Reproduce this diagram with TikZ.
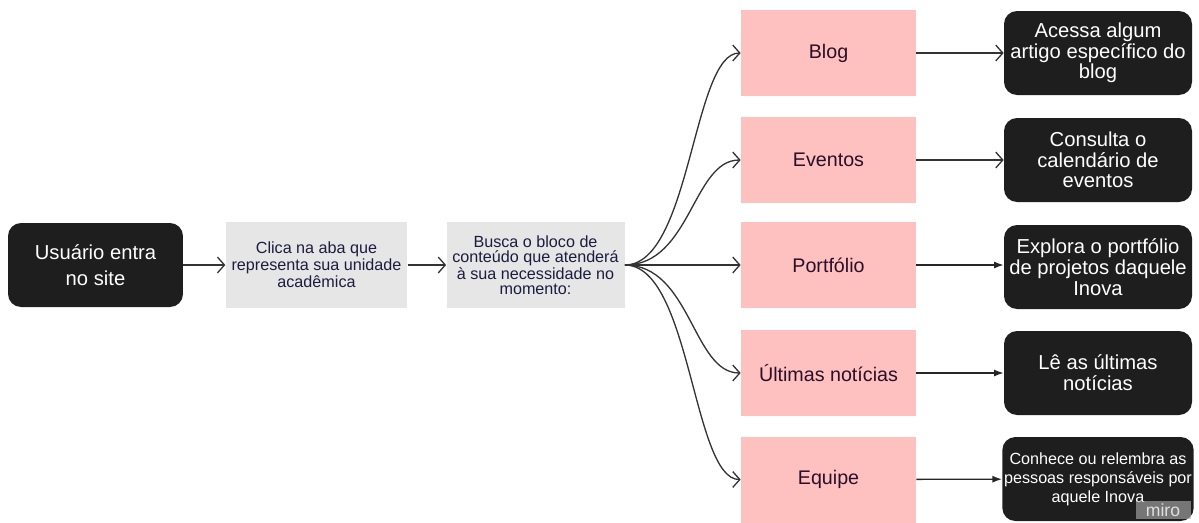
\documentclass[tikz,border=0pt]{standalone}
\usepackage{fontspec}
\setmainfont{Liberation Sans}
\usetikzlibrary{arrows.meta}
\definecolor{boxpink}{RGB}{255,192,192}
\definecolor{boxgrey}{RGB}{230,230,230}
\definecolor{boxblack}{RGB}{30,30,30}
\definecolor{inknavy}{RGB}{28,28,64}
\definecolor{inkplum}{RGB}{40,16,40}
\tikzset{
    % black rounded boxes
    userbox/.style={fill=boxblack, rounded corners=0.26cm, text=white, align=center,
        minimum width=3.5cm, minimum height=1.68cm, font=\fontsize{11.5}{14.5}\selectfont},
    actbox/.style={fill=boxblack, rounded corners=0.26cm, text=white, align=center,
        minimum width=3.76cm, minimum height=1.68cm, inner sep=1pt, font=\fontsize{11.5}{11.8}\selectfont},
    % grey step boxes
    stepbox/.style={fill=boxgrey, text=inknavy, align=center,
        minimum width=3.46cm, minimum height=1.72cm, font=\fontsize{9.2}{8.4}\selectfont},
    % pink page boxes
    pagebox/.style={fill=boxpink, text=inkplum, align=center,
        minimum width=3.5cm, minimum height=1.72cm, font=\fontsize{11.2}{13}\selectfont},
    openarrow/.style={draw=black!80, line width=0.75pt, -{Straight Barb[length=4pt,width=9pt]}},
    fillarrow/.style={draw=black!85, line width=0.75pt, -{Latex[length=5.5pt,width=4pt]}}
}
\begin{document}
\begin{tikzpicture}[x=0.02cm,y=-0.02cm]
    \useasboundingbox (0,0) rectangle (1199,522);
    % left chain
    \node[userbox] (user) at (95.5,265) {Usuário entra\\no site};
    \node[stepbox] (clica) at (316.5,265) {Clica na aba que\\representa sua unidade\\acadêmica};
    \node[stepbox] (busca) at (535.5,265) {Busca o bloco de\\conteúdo que atenderá\\à sua necessidade no\\momento:};
    \draw[openarrow] (user) -- (clica);
    \draw[openarrow] (clica) -- (busca);
    % pages
    \node[pagebox] (blog) at (828.5,53) {Blog};
    \node[pagebox] (eventos) at (828.5,160) {Eventos};
    \node[pagebox] (portfolio) at (828.5,265) {Portfólio};
    \node[pagebox] (noticias) at (828.5,373) {Últimas notícias};
    \node[pagebox] (equipe) at (828.5,479.5) {Equipe};
    % actions
    \node[actbox] (acessa) at (1098,53) {Acessa algum\\artigo específico do\\blog};
    \node[actbox] (consulta) at (1098,160) {Consulta o\\calendário de\\eventos};
    \node[actbox] (explora) at (1098,267) {Explora o portfólio\\de projetos daquele\\Inova};
    \node[actbox] (le) at (1098,373) {Lê as últimas\\notícias};
    \node[actbox, font=\fontsize{9.2}{10.8}\selectfont] (conhece) at (1098,479) {Conhece ou relembra as\\pessoas responsáveis por\\aquele Inova};
    % fan out
    \foreach \p in {blog,eventos,noticias,equipe}{
        \draw[openarrow] (busca.east) .. controls +(66,0) and +(-48,0) .. (\p.west);
    }
    \draw[openarrow] (busca.east) -- (portfolio.west);
    \draw[openarrow] (blog) -- (acessa);
    \draw[openarrow] (eventos) -- (consulta);
    \draw[fillarrow] (portfolio) -- (portfolio -| explora.west);
    \draw[fillarrow] (noticias) -- (le);
    \draw[fillarrow] (equipe) -- (conhece);
    \node[fill=gray!60, fill opacity=0.6, text opacity=1, text=gray!25, inner sep=1.5pt,
        minimum width=1.1cm, font=\fontsize{10}{10}\selectfont] (miro) at (1163,510) {miro};
\end{tikzpicture}
\end{document}
